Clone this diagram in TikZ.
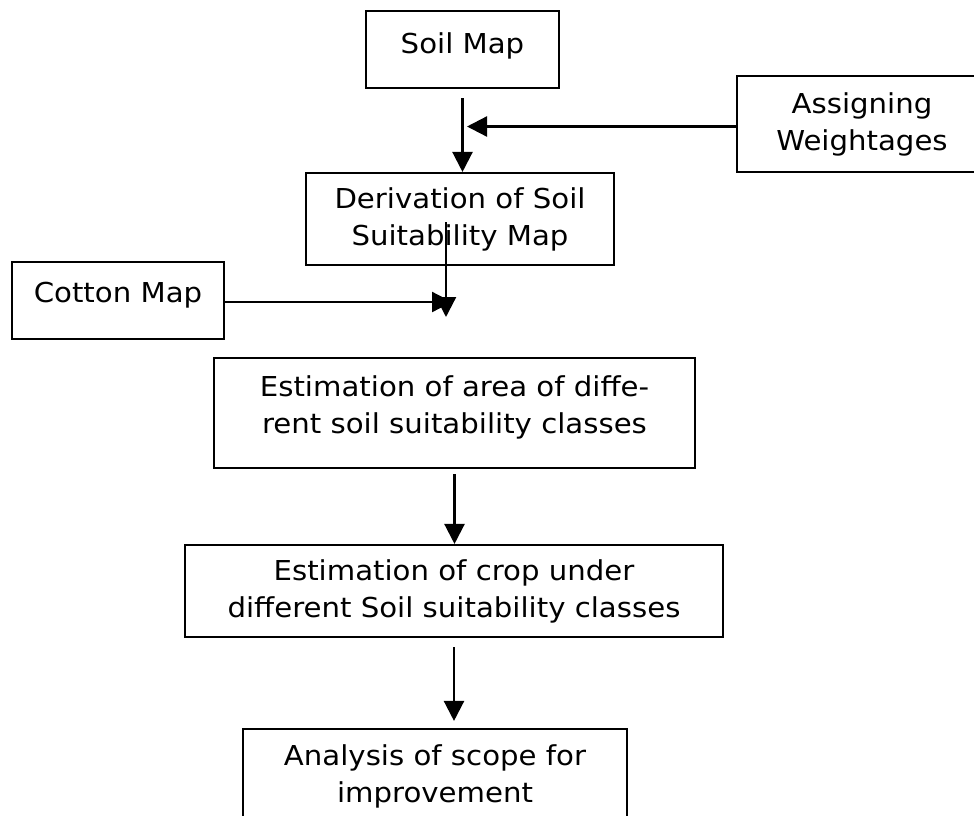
\documentclass[tikz,border=0pt]{standalone}
\usepackage{fontspec}
\setmainfont{DejaVu Sans}[FakeStretch=1.065]
\usetikzlibrary{arrows.meta, positioning}

\begin{document}
\begin{tikzpicture}[
    box/.style={draw,line width=1.2pt,inner sep=0pt,align=center,
                font=\fontsize{15.6pt}{21pt}\selectfont},
    arr/.style={-{Triangle[length=0.4cm,width=0.4cm]},line width=1.3pt}
]
  \useasboundingbox (0,0) rectangle (19.48,-16.3);
  \clip (0,0) rectangle (19.48,-16.3);

  % Inputs
  \node[box,minimum width=3.86cm,minimum height=1.54cm,text depth=0.27cm] (soil) at (9.25,-0.99) {Soil Map};
  \node[box,minimum width=5cm,minimum height=1.92cm] (assign) at (17.24,-2.48) {Assigning\\Weightages};
  \node[box,minimum width=6.16cm,minimum height=1.84cm] (deriv) at (9.2,-4.38) {Derivation of Soil\\Suitability Map};
  \node[box,minimum width=4.24cm,minimum height=1.54cm,text depth=0.31cm] (cotton) at (2.36,-6.01) {Cotton Map};

  % Main chain
  \node[box,minimum width=9.62cm,minimum height=2.2cm,text depth=0.33cm] (area) at (9.09,-8.26) {Estimation of area of diffe-\\rent soil suitability classes};
  \node[box,minimum width=10.76cm,minimum height=1.84cm] (crop) at (9.08,-11.82) {Estimation of crop under\\different Soil suitability classes};
  \node[box,minimum width=7.68cm,minimum height=1.9cm] (scope) at (8.7,-15.53) {Analysis of scope for\\improvement};

  % Joins
  \coordinate (suittop) at (8.92,-4.44);
  \coordinate (suitend) at (8.92,-6.34);
  \coordinate (cottonend) at (9.04,-6.04);

  \draw[arr,shorten <=0.18cm] (soil.south) -- (soil.south |- deriv.north);
  \draw[arr,shorten >=0.09cm] ([yshift=-0.05cm]assign.west) -- ([yshift=-0.05cm]assign.west -| soil.south);
  \draw[arr] (suittop) -- (suitend);
  \draw[arr] (cotton.east |- cottonend) -- (cottonend);
  \draw[arr,shorten <=0.1cm] (area.south) -- (area.south |- crop.north);
  \draw[arr,shorten <=0.18cm,shorten >=0.14cm] (crop.south) -- (crop.south |- scope.north);

\end{tikzpicture}
\end{document}
